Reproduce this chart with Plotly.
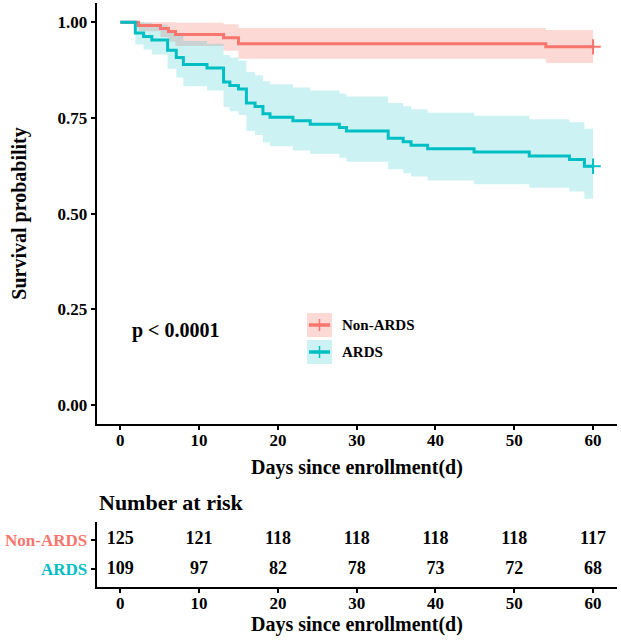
import plotly.graph_objects as go

# ---------------- data ----------------
groups = ["Non-ARDS", "ARDS"]
colors = {"Non-ARDS": "#F8766D", "ARDS": "#00BFC4"}
fills = {"Non-ARDS": "rgba(248,118,109,0.28)", "ARDS": "rgba(0,191,196,0.20)"}

non_t = [0, 2.3, 5.1, 6.1, 7.0, 13.1, 15.0, 54.0, 60]
non_s = [1.0, 0.992, 0.984, 0.976, 0.968, 0.960, 0.944, 0.936, 0.936]
non_lo = [1.0, 0.977, 0.962, 0.950, 0.938, 0.926, 0.905, 0.894, 0.894]
non_hi = [1.0, 1.0, 1.0, 1.0, 0.999, 0.995, 0.985, 0.980, 0.980]

ards_t = [0, 1.9, 2.95, 4.0, 6.0, 7.1, 8.0, 11.0, 13.1, 13.9, 15.0, 16.0, 17.1, 18.1,
          19.0, 21.9, 24.1, 27.8, 28.7, 34.0, 35.9, 36.9, 39.0, 44.9, 51.9, 57.0, 58.9, 60]
ards_s = [1.0, .972, .963, .954, .927, .908, .890, .881, .844, .835, .826, .789, .780, .761,
          .752, .743, .734, .725, .716, .697, .688, .679, .670, .661, .651, .642, .624, .624]
ards_lo = [1.0, .942, .929, .916, .879, .856, .833, .822, .779, .768, .758, .716, .706, .686,
           .676, .665, .656, .646, .636, .616, .606, .597, .587, .577, .568, .558, .539, .539]
ards_hi = [1.0, 1.0, .999, .994, .977, .964, .951, .944, .915, .908, .900, .870, .862, .846,
           .838, .830, .822, .814, .806, .789, .781, .773, .764, .756, .747, .739, .722, .722]

risk_times = [0, 10, 20, 30, 40, 50, 60]
risk_non = [125, 121, 118, 118, 118, 118, 117]
risk_ards = [109, 97, 82, 78, 73, 72, 68]

y_ticks = [0, 0.25, 0.5, 0.75, 1.0]
y_ticktext = ["0.00", "0.25", "0.50", "0.75", "1.00"]
x_ticks = [0, 10, 20, 30, 40, 50, 60]

curves = {
    "Non-ARDS": (non_t, non_s, non_lo, non_hi),
    "ARDS": (ards_t, ards_s, ards_lo, ards_hi),
}

# ---------------- layout helpers ----------------
W, H = 621, 641
def fx(px):
    return px / W
def fy(py):
    return 1 - py / H

FONT = "Liberation Serif"

fig = go.Figure()

# confidence bands
for g in groups:
    t, s, lo, hi = curves[g]
    fig.add_trace(go.Scatter(x=t, y=lo, mode="lines", line=dict(width=0, shape="hv"),
                             showlegend=False, hoverinfo="skip", xaxis="x", yaxis="y"))
    fig.add_trace(go.Scatter(x=t, y=hi, mode="lines", line=dict(width=0, shape="hv"),
                             fill="tonexty", fillcolor=fills[g],
                             showlegend=False, hoverinfo="skip", xaxis="x", yaxis="y"))
# survival lines
for g in groups:
    t, s, lo, hi = curves[g]
    fig.add_trace(go.Scatter(x=t, y=s, mode="lines", line=dict(color=colors[g], width=3, shape="hv"),
                             name=g, showlegend=False, xaxis="x", yaxis="y"))
# censor marks
for g in groups:
    t, s, lo, hi = curves[g]
    fig.add_trace(go.Scatter(x=[t[-1]], y=[s[-1]], mode="markers",
                             marker=dict(symbol="cross-thin", size=11,
                                         line=dict(color=colors[g], width=2)),
                             showlegend=False, xaxis="x", yaxis="y"))

# risk table numbers
fig.add_trace(go.Scatter(x=risk_times, y=[2] * len(risk_times), mode="text",
                         text=[str(v) for v in risk_non],
                         textfont=dict(family=FONT, size=18, color="black", weight="bold"),
                         showlegend=False, xaxis="x2", yaxis="y2"))
fig.add_trace(go.Scatter(x=risk_times, y=[1] * len(risk_times), mode="text",
                         text=[str(v) for v in risk_ards],
                         textfont=dict(family=FONT, size=18, color="black", weight="bold"),
                         showlegend=False, xaxis="x2", yaxis="y2"))

axis_common = dict(showline=True, linecolor="black", linewidth=2.2, ticks="outside",
                   ticklen=4, tickwidth=2, tickcolor="black", showgrid=False,
                   zeroline=False, automargin=False,
                   tickfont=dict(family=FONT, size=17, color="black", weight="bold"))

xdom = [fx(96.7), fx(616.7)]

fig.update_layout(
    width=W, height=H,
    margin=dict(l=0, r=0, t=0, b=0),
    paper_bgcolor="white", plot_bgcolor="white",
    showlegend=False,
    xaxis=dict(domain=xdom, range=[-3, 63], tickvals=x_ticks, anchor="y",
               ticklabelstandoff=-5, **axis_common),
    yaxis=dict(domain=[fy(424.3), fy(3.2)], range=[-0.05, 1.05], tickvals=y_ticks,
               ticktext=y_ticktext, anchor="x", **axis_common),
    xaxis2=dict(domain=xdom, range=[-3, 63], tickvals=x_ticks, anchor="y2",
                ticklabelstandoff=-5, **axis_common),
    yaxis2=dict(domain=[fy(587.3), fy(521.7)], range=[0.4, 2.6], tickvals=[2, 1],
                ticktext=['<span style="color:#F8766D">Non-ARDS</span>',
                          '<span style="color:#00BFC4">ARDS</span>'],
                anchor="x2", **axis_common),
)

def ann(text, x, y, size, xanchor="center", angle=0):
    fig.add_annotation(text=text, x=x, y=y, xref="paper", yref="paper", showarrow=False,
                       xanchor=xanchor, yanchor="middle", textangle=angle,
                       font=dict(family=FONT, size=size, color="black", weight="bold"))

xc = (xdom[0] + xdom[1]) / 2
ann("Days since enrollment(d)", xc, fy(467), 20)
ann("Survival probability", fx(20), fy(213.7), 20, angle=-90)
ann("p &lt; 0.0001", fx(130), fy(330), 20, xanchor="left")
ann("Number at risk", fx(97), fy(502), 22, xanchor="left")
ann("Days since enrollment(d)", xc, fy(624), 20)

# manual legend
for g, yc in (("Non-ARDS", 325), ("ARDS", 352)):
    fig.add_shape(type="rect", xref="paper", yref="paper",
                  x0=fx(307), x1=fx(332), y0=fy(yc + 12), y1=fy(yc - 12),
                  fillcolor=fills[g], line=dict(width=0))
    fig.add_shape(type="line", xref="paper", yref="paper",
                  x0=fx(309), x1=fx(330), y0=fy(yc), y1=fy(yc),
                  line=dict(color=colors[g], width=3.5))
    fig.add_shape(type="line", xref="paper", yref="paper",
                  x0=fx(319.5), x1=fx(319.5), y0=fy(yc - 6), y1=fy(yc + 6),
                  line=dict(color=colors[g], width=1.5))
    fig.add_annotation(text=g, x=fx(340), y=fy(yc), xref="paper", yref="paper",
                       showarrow=False, xanchor="left", yanchor="middle",
                       font=dict(family=FONT, size=15, color="black", weight="bold"))

fig.write_html("out.html", post_script="document.body.style.margin='0';",
               config={"displayModeBar": False})
